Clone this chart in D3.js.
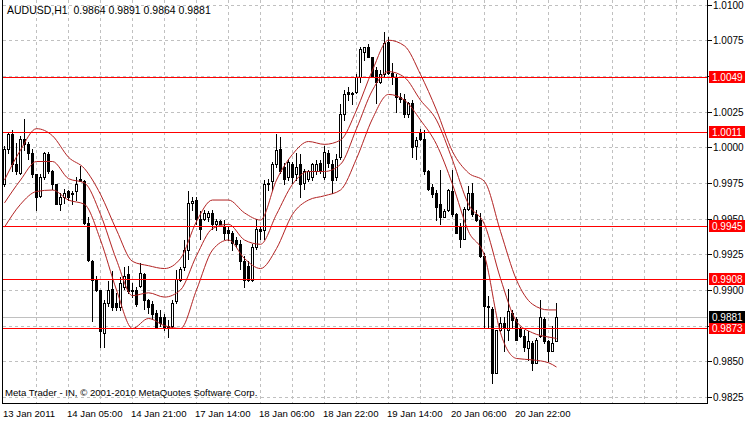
<!DOCTYPE html>
<html><head><meta charset="utf-8">
<script src="https://cdn.jsdelivr.net/npm/d3@7"></script>
<style>html,body{margin:0;padding:0;background:#fff;}svg{display:block;}</style>
</head><body>
<script>
const symbolTitle = "AUDUSD,H1  0.9864 0.9891 0.9864 0.9881";
const copyright = "Meta Trader - IN, \u00A9 2001-2010 MetaQuotes Software Corp.";
const openP = [
.9974,.9999,1.0009,.9988,.9982,1.0006,1.0002,.9996,.9981,.9966,
.9979,.9995,.9983,.9974,.9960,.9965,.9969,.9967,.9969,.9978,
.9976,.9947,.9920,.9908,.9900,.9870,.9891,.9901,.9891,.9888,
.9902,.9911,.9900,.9900,.9903,.9911,.9893,.9890,.9884,.9881,
.9881,.9875,.9875,.9892,.9907,.9916,.9928,.9961,.9963,.9950,
.9950,.9951,.9954,.9946,.9948,.9944,.9942,.9940,.9935,.9932,
.9920,.9917,.9907,.9930,.9943,.9942,.9974,.9976,.9988,.9999,
.9986,.9979,.9988,.9981,.9988,.9975,.9978,.9979,.9983,.9989,
.9979,.9996,.9988,.9979,.9993,1.0023,1.0039,1.0038,1.0039,1.0049,
1.0067,1.0070,1.0063,1.0054,1.0046,1.0051,1.0074,1.0052,1.0049,1.0035,
1.0034,1.0023,1.0031,1.0001,1.0011,1.0006,.9983,.9972,.9968,.9960,
.9951,.9956,.9969,.9953,.9944,.9936,.9957,.9968,.9953,.9949,
.9924,.9889,.9887,.9842,.9872,.9877,.9872,.9884,.9880,.9873,
.9868,.9859,.9863,.9849,.9868,.9880,.9864,.9857,.9864];
const highP = [
1.0001,1.0011,1.0012,1.0003,1.0008,1.0020,1.0004,.9999,.9981,.9981,
.9997,.9997,.9984,.9974,.9968,.9971,.9970,.9969,.9979,.9987,
.9977,.9951,.9921,.9910,.9900,.9893,.9906,.9913,.9898,.9909,
.9916,.9917,.9905,.9902,.9919,.9912,.9894,.9892,.9886,.9886,
.9883,.9879,.9893,.9914,.9916,.9935,.9969,.9965,.9965,.9955,
.9956,.9955,.9956,.9950,.9949,.9949,.9945,.9941,.9937,.9935,
.9924,.9920,.9932,.9950,.9945,.9977,.9978,.9990,1.0009,1.0007,
.9989,.9992,.9990,.9996,.9995,.9985,.9984,.9989,.9991,.9991,
1.0001,.9998,.9991,.9995,1.0030,1.0040,1.0042,1.0039,1.0051,1.0070,
1.0070,1.0072,1.0063,1.0056,1.0054,1.0081,1.0077,1.0059,1.0051,1.0038,
1.0037,1.0032,1.0033,1.0007,1.0013,1.0012,.9984,.9974,.9970,.9984,
.9957,.9971,.9984,.9954,.9947,.9958,.9973,.9975,.9956,.9954,
.9926,.9896,.9888,.9872,.9881,.9881,.9901,.9886,.9881,.9874,
.9872,.9871,.9864,.9866,.9893,.9881,.9865,.9875,.9891];
const lowP = [
.9973,.9996,.9983,.9981,.9981,.9998,.9992,.9979,.9956,.9965,
.9978,.9982,.9971,.9960,.9956,.9961,.9963,.9960,.9963,.9976,
.9946,.9920,.9878,.9899,.9860,.9860,.9889,.9886,.9886,.9886,
.9901,.9898,.9895,.9889,.9902,.9887,.9884,.9880,.9873,.9875,
.9872,.9867,.9874,.9891,.9906,.9914,.9922,.9956,.9946,.9936,
.9949,.9948,.9943,.9942,.9946,.9936,.9935,.9928,.9930,.9915,
.9902,.9906,.9906,.9929,.9936,.9936,.9970,.9970,.9986,.9982,
.9974,.9977,.9975,.9977,.9965,.9971,.9976,.9977,.9981,.9982,
.9978,.9986,.9968,.9977,.9992,1.0019,1.0033,1.0030,1.0038,1.0046,
1.0061,1.0063,1.0049,1.0031,1.0045,1.0049,1.0051,1.0044,1.0025,1.0032,
1.0021,1.0021,.9993,.9992,1.0005,.9981,.9970,.9965,.9949,.9946,
.9951,.9955,.9952,.9940,.9930,.9936,.9956,.9952,.9948,.9923,
.9874,.9874,.9835,.9842,.9871,.9857,.9865,.9874,.9865,.9867,
.9857,.9851,.9844,.9849,.9867,.9863,.9850,.9857,.9864];
const closeP = [
.9999,1.0009,.9988,.9983,1.0006,1.0002,.9996,.9981,.9965,.9979,
.9996,.9983,.9974,.9960,.9965,.9968,.9965,.9968,.9974,.9976,
.9947,.9921,.9907,.9900,.9871,.9891,.9900,.9888,.9888,.9905,
.9910,.9899,.9899,.9890,.9912,.9893,.9888,.9883,.9874,.9877,
.9874,.9873,.9891,.9908,.9915,.9928,.9961,.9962,.9950,.9943,
.9954,.9954,.9946,.9948,.9946,.9940,.9940,.9933,.9932,.9920,
.9907,.9907,.9930,.9943,.9941,.9974,.9975,.9988,.9998,.9983,
.9978,.9990,.9979,.9986,.9974,.9983,.9983,.9988,.9988,.9984,
.9997,.9989,.9977,.9992,1.0023,1.0037,1.0037,1.0037,1.0049,1.0069,
1.0070,1.0063,1.0049,1.0046,1.0051,1.0073,1.0052,1.0049,1.0035,1.0034,
1.0023,1.0031,1.0000,1.0005,1.0006,.9983,.9971,.9967,.9958,.9951,
.9955,.9970,.9953,.9940,.9936,.9957,.9968,.9953,.9949,.9924,
.9889,.9888,.9842,.9872,.9877,.9873,.9885,.9879,.9865,.9868,
.9860,.9864,.9849,.9865,.9881,.9864,.9857,.9863,.9881];
// envelope / band lines, read at these bar indices
const bandIdx = [0,4,8,12,16,20,24,28,32,36,40,44,48,52,56,60,64,68,72,76,80,84,88,92,96,100,104,108,112,116,120,124,128,132,136,138];
const bandUpper = [.9977,.9998,1.0013,1.0008,.9993,.9985,.9967,.9942,.9920,.9917,.9915,.9922,.9948,.9963,.9963,.9954,.9949,.9977,.9995,1.0004,1.0002,1.0005,1.0026,1.0054,1.0075,1.0071,1.0051,1.0026,.9997,.9982,.9976,.9941,.9907,.9890,.9886,.9886];
const bandMiddle = [.9961,.9977,.9990,.9990,.9978,.9975,.9953,.9921,.9896,.9898,.9895,.9900,.9924,.9943,.9946,.9935,.9932,.9953,.9974,.9983,.9983,.9988,1.0013,1.0040,1.0053,1.0049,1.0033,1.0019,.9991,.9960,.9946,.9908,.9878,.9870,.9867,.9866];
const bandLower = [.9944,.9960,.9969,.9970,.9963,.9960,.9935,.9900,.9873,.9880,.9875,.9873,.9900,.9928,.9935,.9922,.9915,.9929,.9953,.9963,.9966,.9970,.9992,1.0020,1.0037,1.0033,1.0019,1.0002,.9974,.9941,.9924,.9870,.9852,.9851,.9849,.9846];
// horizontal levels
const redLevels = [1.0049, 1.0011, 0.9945, 0.9908, 0.9873];
const bidLevel = 0.9881;
const priceTicks = [1.0100,1.0075,1.0050,1.0025,1.0000,0.9975,0.9950,0.9925,0.9900,0.9875,0.9850,0.9825];
const timeLabels = ["13 Jan 2011","14 Jan 05:00","14 Jan 21:00","17 Jan 14:00","18 Jan 06:00","18 Jan 22:00","19 Jan 14:00","20 Jan 06:00","20 Jan 22:00"];
const timeLabelBars = [0,16,32,48,64,80,96,112,128];

const W = 745, H = 422;
const plotRight = 707.5, plotBottom = 403.5;
const svg = d3.select("body").append("svg").attr("width", W).attr("height", H)
  .style("font-family", "'Liberation Sans', Arial, sans-serif").style("font-size", "10px");

const x = d3.scaleLinear().domain([0, 176]).range([4, 708]);
const y = d3.scaleLinear().domain([0.9825, 1.0100]).range([397, 4.5]);
const py = v => Math.round(y(v)) + 0.5;

// grid
const grid = svg.append("g").attr("stroke", "#c0c0c0").attr("stroke-dasharray", "3,3").attr("shape-rendering", "crispEdges");
priceTicks.forEach(v => grid.append("line").attr("x1", 3).attr("x2", plotRight).attr("y1", py(v)).attr("y2", py(v)));
d3.range(8, 176, 8).forEach(i => grid.append("line").attr("x1", x(i) + 0.5).attr("x2", x(i) + 0.5).attr("y1", 0).attr("y2", plotBottom));

// bid line
svg.append("line").attr("x1", 3).attr("x2", plotRight).attr("y1", py(bidLevel)).attr("y2", py(bidLevel))
  .attr("stroke", "#c0c0c0").attr("shape-rendering", "crispEdges");

// candles
const bars = d3.range(openP.length).map(i => ({i, o: openP[i], h: highP[i], l: lowP[i], c: closeP[i]}));
const cg = svg.append("g").attr("shape-rendering", "crispEdges");
bars.forEach(b => {
  const cx = x(b.i);
  cg.append("line").attr("x1", cx + 0.5).attr("x2", cx + 0.5)
    .attr("y1", Math.round(y(Math.max(b.h, b.o, b.c)))).attr("y2", Math.round(y(Math.min(b.l, b.o, b.c))) + 1)
    .attr("stroke", "#000");
  const top = Math.round(y(Math.max(b.o, b.c))), bot = Math.round(y(Math.min(b.o, b.c)));
  if (b.c >= b.o) {
    cg.append("rect").attr("x", cx - 0.5).attr("y", top + 0.5).attr("width", 2).attr("height", Math.max(bot - top, 1))
      .attr("fill", "#fff").attr("stroke", "#000");
  } else {
    cg.append("rect").attr("x", cx - 1).attr("y", top).attr("width", 3).attr("height", Math.max(bot - top + 1, 1))
      .attr("fill", "#000");
  }
});

// bands
const bandLine = d3.line().x(d => x(d[0]) + 0.5).y(d => y(d[1])).curve(d3.curveMonotoneX);
[bandUpper, bandMiddle, bandLower].forEach(arr => {
  svg.append("path").datum(bandIdx.map((bi, k) => [bi, arr[k]]))
    .attr("d", bandLine).attr("fill", "none").attr("stroke", "#b22222").attr("stroke-width", 1);
});

// red level lines
redLevels.forEach(v => svg.append("line").attr("x1", 3).attr("x2", plotRight).attr("y1", py(v)).attr("y2", py(v))
  .attr("stroke", "#ff0000").attr("shape-rendering", "crispEdges"));

// frame
const fr = svg.append("g").attr("stroke", "#000").attr("shape-rendering", "crispEdges");
fr.append("line").attr("x1", 2.5).attr("x2", 2.5).attr("y1", 0).attr("y2", plotBottom);
fr.append("line").attr("x1", 2).attr("x2", plotRight + 0.5).attr("y1", plotBottom).attr("y2", plotBottom);
fr.append("line").attr("x1", plotRight).attr("x2", plotRight).attr("y1", 0).attr("y2", plotBottom);

// price axis
priceTicks.forEach(v => {
  svg.append("line").attr("x1", plotRight).attr("x2", plotRight + 4).attr("y1", py(v)).attr("y2", py(v))
    .attr("stroke", "#000").attr("shape-rendering", "crispEdges");
  svg.append("text").attr("x", 713).attr("y", py(v)).attr("dy", "0.35em").text(v.toFixed(4));
});
function priceBox(v, fill) {
  const yy = Math.round(y(v));
  svg.append("rect").attr("x", 709).attr("y", yy - 6).attr("width", 36).attr("height", 12).attr("fill", fill);
  svg.append("text").attr("x", 712).attr("y", yy).attr("dy", "0.36em").attr("fill", "#fff").text(v.toFixed(4));
}
redLevels.forEach(v => priceBox(v, "#ff0000"));
priceBox(bidLevel, "#000");

// time axis
timeLabels.forEach((t, k) => {
  svg.append("text").attr("x", x(timeLabelBars[k]) - 1).attr("y", 417).style("font-size", "9.6px").text(t);
});

// title and copyright
svg.append("text").attr("x", 7).attr("y", 14).style("font-size", "10.5px").style("white-space", "pre")
  .attr("xml:space", "preserve").text(symbolTitle);
svg.append("text").attr("x", 5).attr("y", 396).style("font-size", "9.6px").text(copyright);
</script>
</body></html>
